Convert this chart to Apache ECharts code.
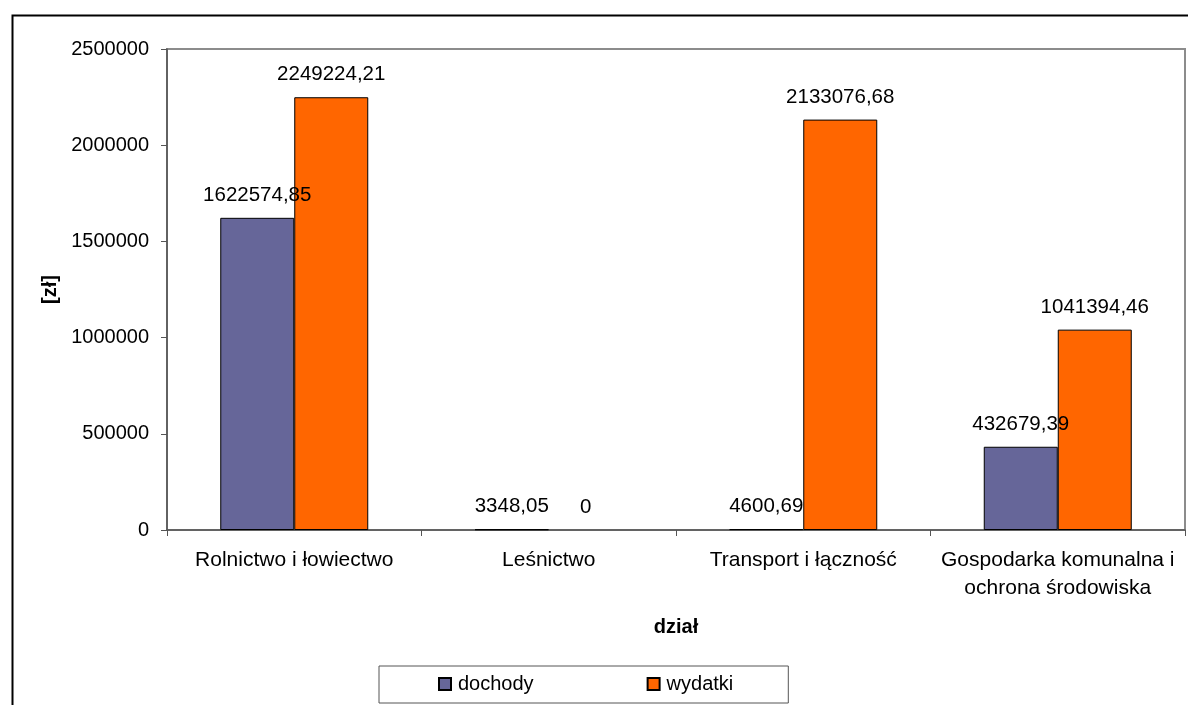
<!DOCTYPE html>
<html>
<head>
<meta charset="utf-8">
<script src="https://cdn.jsdelivr.net/npm/echarts@6/dist/echarts.min.js"></script>
<style>
html,body{margin:0;padding:0;background:#fff;}
#chart{width:1188px;height:705px;}
</style>
</head>
<body>
<div id="chart"></div>
<script>
const categories = ['Rolnictwo i łowiectwo', 'Leśnictwo', 'Transport i łączność', 'Gospodarka komunalna i\nochrona środowiska'];
const dochody = [1622574.85, 3348.05, 4600.69, 432679.39];
const wydatki = [2249224.21, 0, 2133076.68, 1041394.46];
const seriesNames = ['dochody', 'wydatki'];
const yMin = 0, yMax = 2500000, yInterval = 500000;

const FONT = 'Liberation Sans, Arial, sans-serif';
const fmt = p => String(p.value).replace('.', ',');
// zero-height bars are drawn without an outline (as in the reference)
const toData = arr => arr.map(v => v === 0 ? {value: v, itemStyle: {borderWidth: 0}} : v);

const chart = echarts.init(document.getElementById('chart'), null, {renderer: 'canvas'});
chart.setOption({
  animation: false,
  backgroundColor: '#fff',
  textStyle: {fontFamily: FONT},
  graphic: [{
    type: 'rect', left: 10, top: 13, z: -1,
    shape: {width: 1300, height: 800},
    style: {fill: 'none', stroke: '#000', lineWidth: 2}
  }],
  grid: {
    left: 167, right: 3, top: 49, bottom: 175,
    show: true, borderColor: '#8c8c8c', borderWidth: 2, backgroundColor: 'transparent'
  },
  legend: {
    data: seriesNames,
    left: 379, top: 666,
    orient: 'horizontal',
    icon: 'rect',
    itemWidth: 12, itemHeight: 12,
    itemGap: 113,
    padding: [8, 55, 9, 59],
    borderColor: '#555', borderWidth: 1,
    textStyle: {fontSize: 20, color: '#000', fontFamily: FONT, lineHeight: 20, padding: [0, 0, 0, 2]}
  },
  xAxis: {
    type: 'category',
    data: categories,
    name: 'dział',
    nameLocation: 'middle',
    nameGap: 87,
    nameTextStyle: {fontSize: 20, fontWeight: 'bold', color: '#000', fontFamily: FONT},
    axisLine: {lineStyle: {color: '#555', width: 1.5}},
    axisTick: {show: true, length: 6, lineStyle: {color: '#555'}},
    axisLabel: {fontSize: 21, color: '#000', margin: 16, lineHeight: 28, fontFamily: FONT, interval: 0},
    splitLine: {show: false}
  },
  yAxis: {
    type: 'value',
    min: yMin, max: yMax, interval: yInterval,
    name: '[zł]',
    nameLocation: 'middle',
    nameGap: 106,
    nameRotate: 90,
    nameTextStyle: {fontSize: 20, fontWeight: 'bold', color: '#000', fontFamily: FONT},
    axisLine: {show: true, lineStyle: {color: '#555', width: 1.5}},
    axisTick: {show: true, length: 6, lineStyle: {color: '#555'}},
    axisLabel: {fontSize: 20, color: '#000', margin: 18, fontFamily: FONT, formatter: v => String(v)},
    splitLine: {show: false}
  },
  series: [
    {
      name: seriesNames[0], type: 'bar', data: toData(dochody),
      barWidth: 74, barGap: '0%',
      itemStyle: {color: '#666699', borderColor: '#000', borderWidth: 1},
      label: {show: true, position: 'top', distance: 12, fontSize: 20.5, color: '#000', fontFamily: FONT, formatter: fmt}
    },
    {
      name: seriesNames[1], type: 'bar', data: toData(wydatki),
      barWidth: 74, barGap: '0%',
      itemStyle: {color: '#FF6600', borderColor: '#000', borderWidth: 1},
      label: {show: true, position: 'top', distance: 12, fontSize: 20.5, color: '#000', fontFamily: FONT, formatter: fmt}
    }
  ]
});
</script>
</body>
</html>
